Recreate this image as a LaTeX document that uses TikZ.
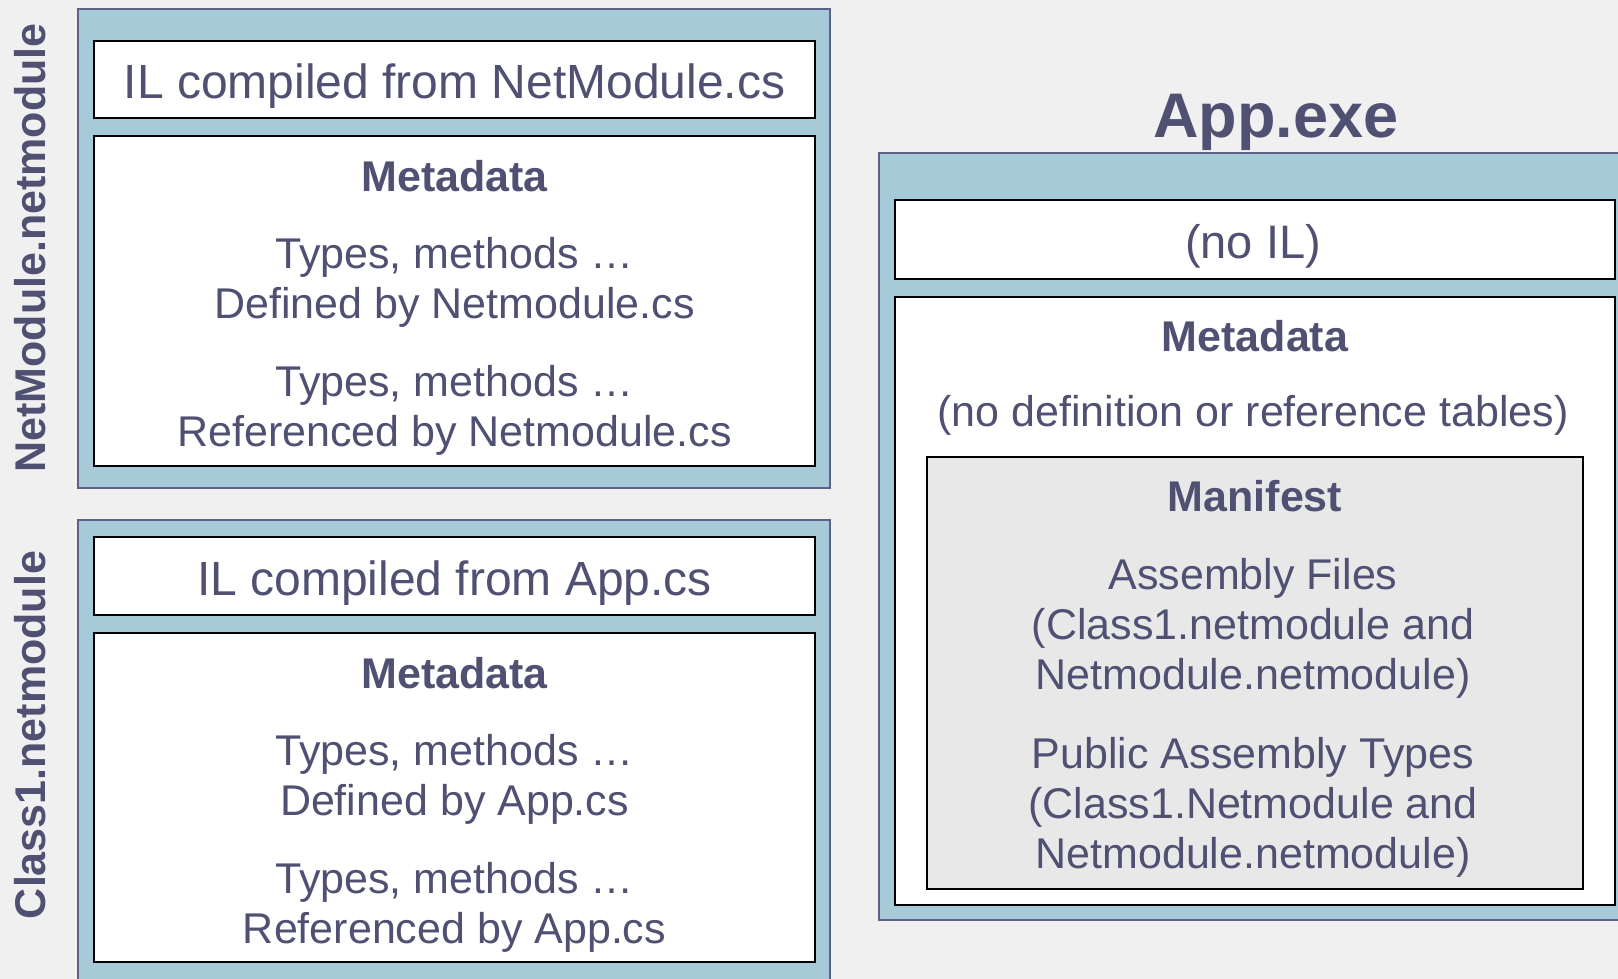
\documentclass[tikz,border=0pt]{standalone}
\usepackage{fontspec}
\setmainfont{Liberation Sans}
\definecolor{txt}{RGB}{80,80,115}
\definecolor{blu}{RGB}{167,202,216}
\definecolor{edge}{RGB}{95,95,135}
\definecolor{grayf}{RGB}{232,232,232}
\definecolor{bg}{RGB}{240,240,240}
\begin{document}
\begin{tikzpicture}[x=1pt,y=-1pt,
  outer/.style={fill=blu, draw=edge, line width=1.5pt},
  inner/.style={fill=white, draw=black, line width=2pt},
  body/.style={text=txt, font=\fontsize{43}{50}\selectfont, align=center, inner sep=0pt},
  head/.style={text=txt, font=\bfseries\fontsize{43}{50}\selectfont, inner sep=0pt},
  il/.style={text=txt, font=\fontsize{48}{56}\selectfont, inner sep=0pt},
  side/.style={text=txt, font=\bfseries\fontsize{43}{50}\selectfont, inner sep=0pt, rotate=90}]
\useasboundingbox (0,0) rectangle (1618,979);
\clip (0,0) rectangle (1618,979);
\fill[bg] (0,0) rectangle (1618,979);
% left top module
\draw[outer] (78,9) rectangle (830,488);
\draw[inner] (94,41) rectangle (815,118);
\draw[inner] (94,136) rectangle (815,466);
% left bottom module
\draw[outer] (78,520) rectangle (830,995);
\draw[inner] (94,537) rectangle (815,615);
\draw[inner] (94,633) rectangle (815,962);
% right exe
\draw[outer] (879,153) rectangle (1630,920);
\draw[inner] (895,200) rectangle (1615,279);
\draw[inner] (895,297) rectangle (1615,905);
\draw[inner, fill=grayf] (927,457) rectangle (1583,889);
% side labels
\node[side] (s1) at (30,248) {NetModule.netmodule};
\node[side] (s2) at (30,735) {Class1.netmodule};
% top-left texts
\node[il] (il1) at (454.5,86) {IL compiled from NetModule.cs};
\node[head] (m1) at (454.5,176) {Metadata};
\node[body] (d1) at (454.5,282) {Types, methods …\\Defined by Netmodule.cs};
\node[body] (r1) at (454.5,410) {Types, methods …\\Referenced by Netmodule.cs};
% bottom-left texts
\node[il] (il2) at (454.5,583) {IL compiled from App.cs};
\node[head] (m2) at (454.5,673) {Metadata};
\node[body] (d2) at (454.5,779) {Types, methods …\\Defined by App.cs};
\node[body] (r2) at (454.5,907) {Types, methods …\\Referenced by App.cs};
% right texts
\node[text=txt, font=\bfseries\fontsize{63}{70}\selectfont, inner sep=0pt] (t) at (1276,122) {App.exe};
\node[il, font=\fontsize{47}{56}\selectfont] (noil) at (1253,246) {(no IL)};
\node[head] (m3) at (1255,336) {Metadata};
\node[body] (nd) at (1253,415) {(no definition or reference tables)};
\node[head] (mf) at (1255,496) {Manifest};
\node[body] (af) at (1253,628) {Assembly Files\\(Class1.netmodule and\\Netmodule.netmodule)};
\node[body] (pt) at (1253,807) {Public Assembly Types\\(Class1.Netmodule and\\Netmodule.netmodule)};
\end{tikzpicture}
\end{document}
